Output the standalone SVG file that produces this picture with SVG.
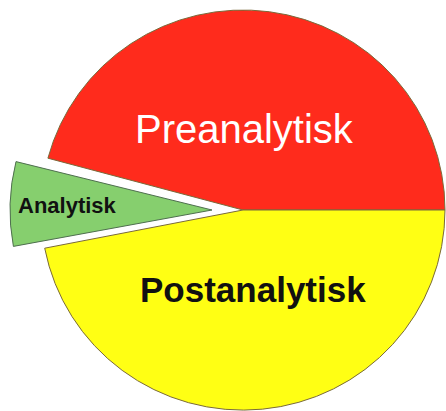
<svg xmlns="http://www.w3.org/2000/svg" width="446" height="411" viewBox="0 0 446 411">
<style>
.slice{stroke:#7a6a3a;stroke-width:1}
.lbl{font-family:"Liberation Sans",Arial,sans-serif}
</style>
<rect width="446" height="411" fill="#ffffff"/>
<g id="preanalytisk">
<path class="slice" fill="#ff2b1c" d="M243,210 L47.9,158.2 A202,200 0 0,1 445,210 Z"/>
<text class="lbl" x="135" y="143" font-size="40" fill="#ffffff">Preanalytisk</text>
</g>
<g id="postanalytisk">
<path class="slice" fill="#ffff14" d="M243,210 L445,210 A202,200 0 0,1 44.7,248.2 Z"/>
<text class="lbl" x="140" y="302" font-size="35" font-weight="bold" fill="#111111">Postanalytisk</text>
</g>
<g id="analytisk">
<path fill="#86cf6e" stroke="#4f6f4f" stroke-width="1" d="M212,210 L13.4,246.4 A202,200 0 0,1 16,161.6 Z"/>
<text class="lbl" x="18" y="213" font-size="22" font-weight="bold" fill="#111111">Analytisk</text>
</g>
<g id="connectors"/>
</svg>
